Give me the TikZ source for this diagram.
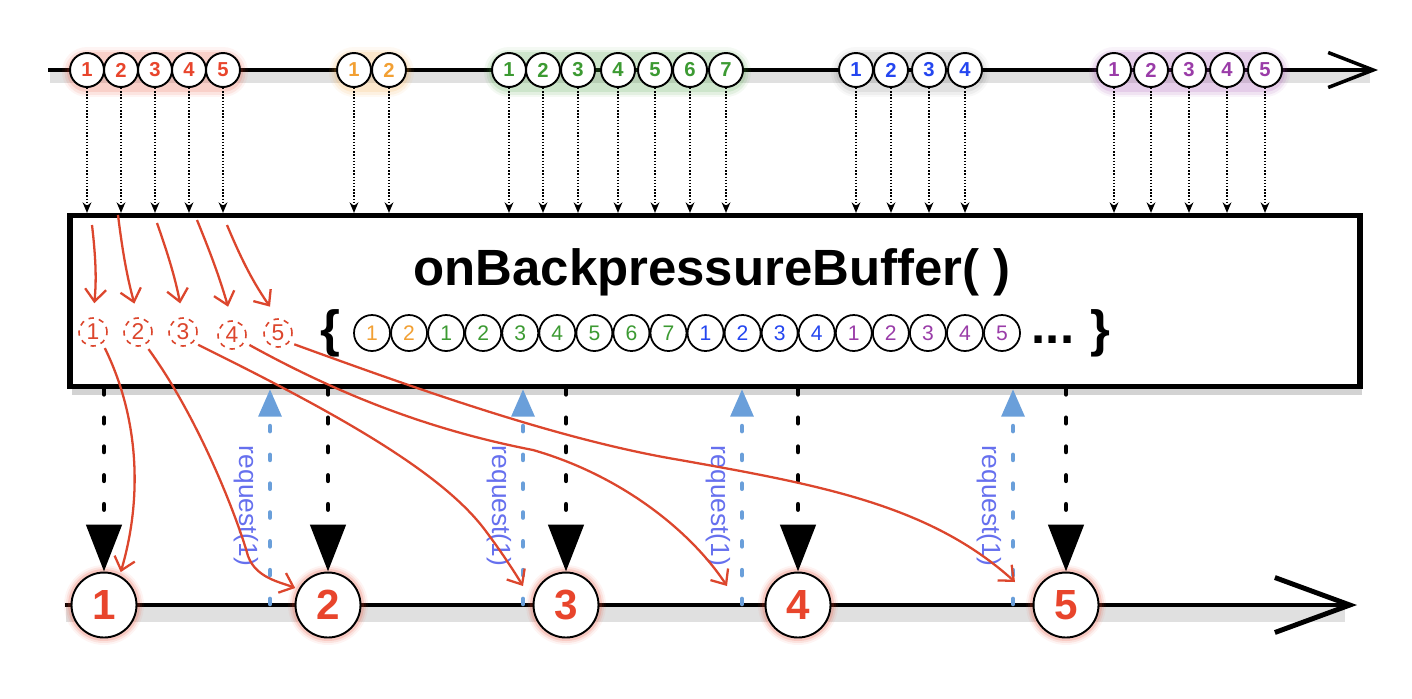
\documentclass[tikz,border=0pt]{standalone}
\usepackage{fontspec}
\setmainfont{Liberation Sans}
\usetikzlibrary{arrows.meta,shadows}

\definecolor{mred}{HTML}{E8452C}
\definecolor{morange}{HTML}{F2A033}
\definecolor{mgreen}{HTML}{3C9A32}
\definecolor{mblue}{HTML}{2446F0}
\definecolor{mpurple}{HTML}{9A3CA8}
\definecolor{pen}{HTML}{DC462D}
\definecolor{reqline}{HTML}{6A9FDA}
\definecolor{reqtext}{HTML}{6670EE}

\begin{document}
\begin{tikzpicture}[x=0.02cm,y=-0.02cm,
  marble/.style={circle,draw,line width=1.1pt,fill=white,minimum size=0.68cm,inner sep=0pt,
    font=\bfseries\fontsize{11.5}{12}\selectfont},
  bufball/.style={circle,draw,line width=1pt,fill=white,minimum size=0.72cm,inner sep=0pt,
    font=\fontsize{12}{12}\selectfont},
  outball/.style={circle,draw,line width=1.1pt,fill=white,minimum size=1.3cm,inner sep=0pt,
    text=mred,font=\bfseries\fontsize{24}{24}\selectfont},
  penball/.style={circle,draw=pen,dashed,line width=0.9pt,minimum size=0.56cm,inner sep=0pt,
    text=pen,font=\fontsize{13}{13}\selectfont},
  big/.style={font=\bfseries\fontsize{29}{30}\selectfont},
  feed/.style={densely dotted,line width=0.8pt,-{Stealth[length=6pt,width=5pt]}},
  emit/.style={line width=2.8pt,dash pattern=on 2.9pt off 13.5pt,line cap=round,
    -{Triangle[length=0.94cm,width=0.7cm]}},
  req/.style={reqline,line width=2.6pt,dash pattern=on 2.9pt off 13.5pt,line cap=round,
    -{Triangle[length=0.55cm,width=0.45cm]}},
  reqlabel/.style={text=reqtext,rotate=-90,font=\fontsize{15}{15}\selectfont},
  pencil/.style={pen,line width=1.3pt,-{Straight Barb[length=7pt,width=12pt]}},
  timeline/.style={line width=2pt}]
\useasboundingbox (0,0) rectangle (1412,698);

% source line
\draw[black,opacity=0.12,line width=7pt] (50,77) -- (1370,77);
\draw[timeline,-{Straight Barb[length=0.9cm,width=0.7cm,line width=2pt]}] (48,70) -- (1378,70);
\foreach \a/\b/\c/\s in {87/223/mred/1,354/389/morange/1,509/726/mgreen/1,856/965/black/0.45,1114/1265/mpurple/1}
  \foreach \w/\o in {1.0/0.06,0.9/0.09,0.8/0.13}
    \draw[\c,opacity=\o*\s,line width=\w cm,line cap=round] (\a,72) -- (\b,72);
\foreach \x/\n in {87/1,121/2,155/3,189/4,223/5}
  \node[marble,text=mred] (a\n) at (\x,70) {\n};
\foreach \x/\n in {354/1,389/2}
  \node[marble,text=morange] (b\n) at (\x,70) {\n};
\foreach \x/\n in {509/1,543/2,578/3,618/4,655/5,690/6,726/7}
  \node[marble,text=mgreen] (c\n) at (\x,70) {\n};
\foreach \x/\n in {856/1,891/2,929/3,965/4}
  \node[marble,text=mblue] (d\n) at (\x,70) {\n};
\foreach \x/\n in {1114/1,1151/2,1189/3,1227/4,1265/5}
  \node[marble,text=mpurple] (e\n) at (\x,70) {\n};

% operator box
\node[draw,line width=3pt,fill=white,minimum width=25.8cm,minimum height=3.42cm,
  drop shadow={shadow xshift=1pt,shadow yshift=-5pt,opacity=0.35}] (box) at (715,301) {};
\foreach \m in {a1,a2,a3,a4,a5,b1,b2,c1,c2,c3,c4,c5,c6,c7,d1,d2,d3,d4,e1,e2,e3,e4,e5}
  \draw[feed] (\m.south) -- (\m.south |- box.north);
\node[big] (title) at (712,272) {onBackpressureBuffer( )};

% buffer contents
\node[big] (lbrace) at (330,333) {\{};
\foreach \n/\c [count=\i from 0] in {1/morange,2/morange,1/mgreen,2/mgreen,3/mgreen,4/mgreen,
    5/mgreen,6/mgreen,7/mgreen,1/mblue,2/mblue,3/mblue,4/mblue,1/mpurple,2/mpurple,3/mpurple,
    4/mpurple,5/mpurple}
  \node[bufball,text=\c] (k\i) at (372+37.06*\i,333) {\n};
\node[big] (dots) at (1053,340) {...};
\node[big] (rbrace) at (1100,333) {\}};

% output line
\draw[black,opacity=0.12,line width=9pt] (66,614) -- (1345,614);
\draw[line width=2.8pt,-{Straight Barb[length=1.5cm,width=1.1cm,line width=2.8pt]}] (65,605) -- (1357,605);
\foreach \x/\n in {104/1,328/2,566/3,798/4,1066/5} {
  \foreach \r/\o in {0.8/0.06,0.76/0.1,0.72/0.16}
    \fill[mred,opacity=\o] (\x,605) circle (\r cm);
  \node[outball] (o\n) at (\x,605) {\n};
  \draw[emit] (o\n |- box.south) -- (o\n.north);
}

% requests
\foreach \x [count=\n] in {270,523,742,1013} {
  \coordinate (q\n) at (\x,604);
  \draw[req] (q\n) -- (q\n |- box.south);
  \node[reqlabel] (l\n) at ([shift={(-24,-98)}]q\n) {request(1)};
}

% hand-drawn notes
\foreach \x/\y/\n in {93/332/1,138/332/2,183/332/3,232/335/4,278/333/5}
  \node[penball] (p\n) at (\x,\y) {\n};
\foreach \x/\y/\n/\b in {92/225/1/6,118/215/2/-4,157/223/3/4,197/220/4/3,227/225/5/-6}
  \draw[pencil,shorten >=8pt] (\x,\y) coordinate (s\n) to[bend left=\b] (p\n.north);
\coordinate (t3) at (523,586);
\coordinate (t4) at (727,586);
\coordinate (t5) at (1015,582);
\draw[pencil,shorten <=3pt,shorten >=2pt] (p1.-50) .. controls (140,420) and (142,500) .. (o1.62);
\draw[pencil,shorten <=3pt,shorten >=2pt] (p2.-60) .. controls (200,420) and (238,520) .. (248,556)
  .. controls (256,578) and (280,582) .. (o2.152);
\draw[pencil,shorten <=3pt] (p3.-45) .. controls (330,410) and (440,470) .. (485,530)
  .. controls (500,550) and (512,568) .. (t3);
\draw[pencil,shorten <=3pt] (p4.-30) .. controls (340,395) and (430,430) .. (533,450)
  .. controls (620,475) and (690,530) .. (t4);
\draw[pencil,shorten <=3pt] (p5.-40) .. controls (420,390) and (560,440) .. (680,460)
  .. controls (820,485) and (930,505) .. (t5);
\end{tikzpicture}
\end{document}
